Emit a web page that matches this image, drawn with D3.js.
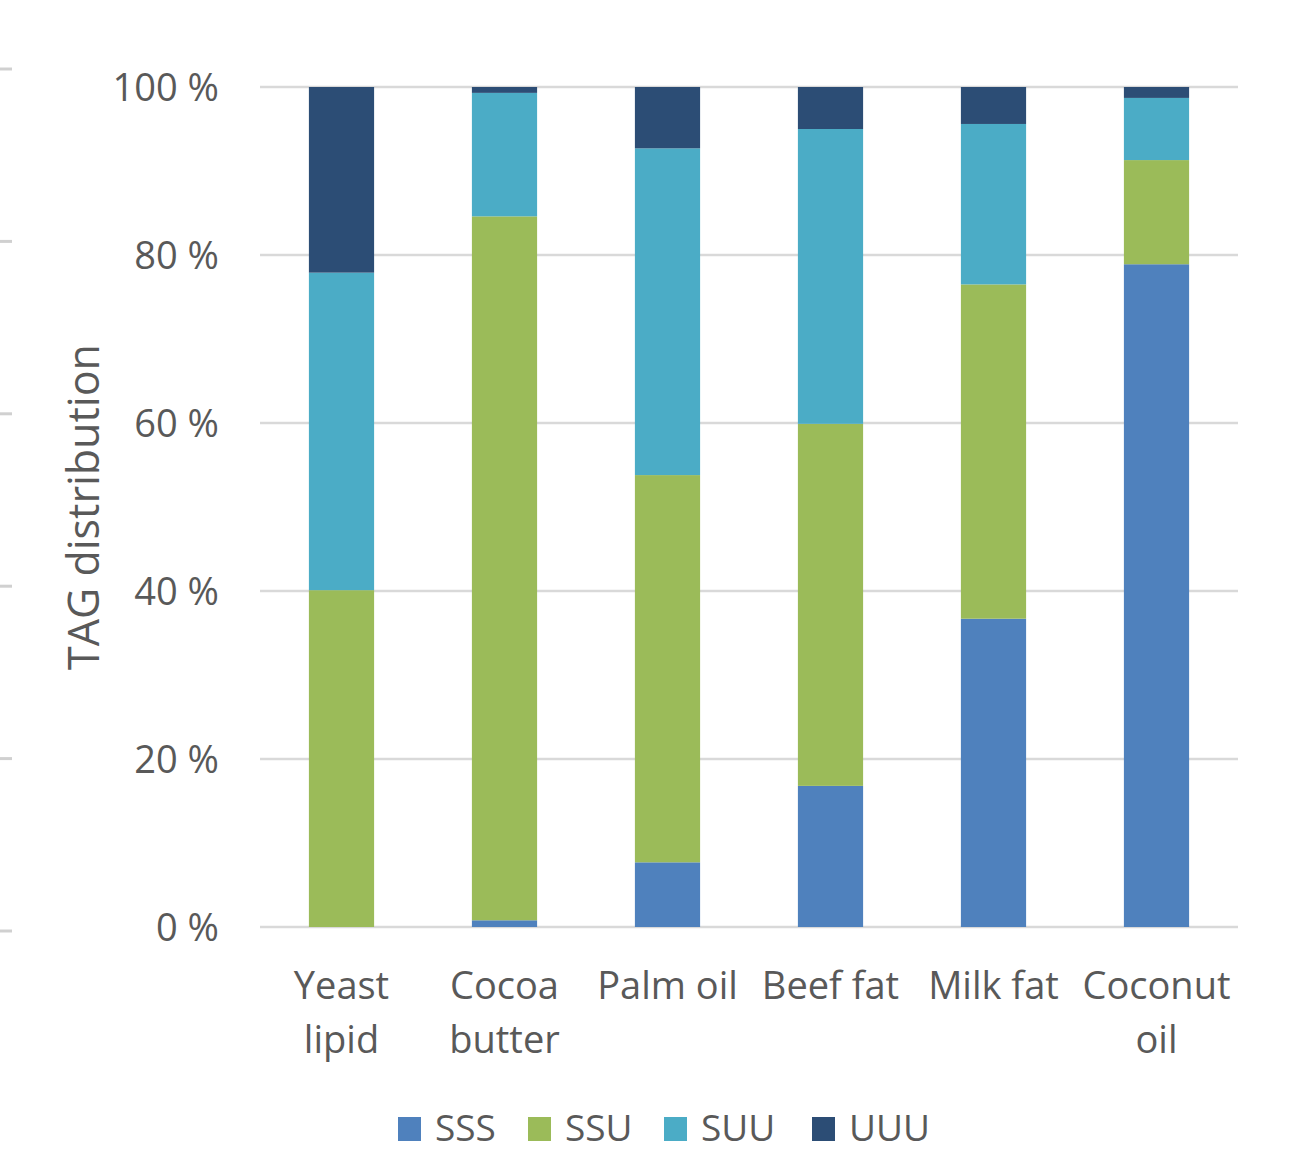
<!DOCTYPE html>
<html>
<head>
<meta charset="utf-8">
<script src="https://cdn.jsdelivr.net/npm/d3@7"></script>
<style>
  html, body { margin: 0; padding: 0; background: #fff; }
  svg { display: block; font-family: "Open Sans", sans-serif; }
</style>
</head>
<body>
<svg id="chart" width="1291" height="1152"></svg>
<script>
// TAG class distribution (%) per fat source
const categories = [["Yeast", "lipid"], ["Cocoa", "butter"], ["Palm oil"], ["Beef fat"], ["Milk fat"], ["Coconut", "oil"]];
const seriesNames = ["SSS", "SSU", "SUU", "UUU"];
const SSS = [0.0, 0.8, 7.7, 16.8, 36.7, 78.9];
const SSU = [40.1, 83.8, 46.1, 43.1, 39.8, 12.4];
const SUU = [37.8, 14.7, 38.9, 35.1, 19.1, 7.4];
const UUU = [22.1, 0.7, 7.3, 5.0, 4.4, 1.3];
const yTicks = [0, 20, 40, 60, 80, 100];
const colors = ["#4f81bd", "#9bbb59", "#4bacc6", "#2c4d75"];

const svg = d3.select("#chart");
const plot = { left: 260, right: 1238, top: 87, bottom: 927 };

const rows = categories.map((c, i) => ({
  key: c.join(" "), lines: c,
  SSS: SSS[i], SSU: SSU[i], SUU: SUU[i], UUU: UUU[i]
}));

const x = d3.scaleBand()
  .domain(rows.map(d => d.key))
  .range([plot.left, plot.right])
  .paddingInner(0.6).paddingOuter(0.3);

const y = d3.scaleLinear().domain([0, 100]).range([plot.bottom, plot.top]);

// small tick marks of the neighbouring axis along the left edge
const edge = d3.scaleLinear().domain([0, 5]).range([931, 69]);
svg.append("g").selectAll("line").data(d3.range(6)).join("line")
  .attr("x1", 0).attr("x2", 12)
  .attr("y1", d => edge(d)).attr("y2", d => edge(d))
  .attr("stroke", "#d0d0d0").attr("stroke-width", 3);

// gridlines
svg.append("g").selectAll("line").data(yTicks).join("line")
  .attr("x1", plot.left).attr("x2", plot.right)
  .attr("y1", d => y(d)).attr("y2", d => y(d))
  .attr("stroke", "#d9d9d9").attr("stroke-width", 2.5);

// y tick labels
const yAxis = d3.axisLeft(y).tickValues(yTicks).tickSize(0).tickPadding(0)
  .tickFormat(d => d + " %");
svg.append("g").attr("transform", "translate(219,0)").call(yAxis)
  .call(g => g.select(".domain").remove())
  .call(g => g.selectAll("text")
    .attr("fill", "#595959").attr("font-size", 38)
    .attr("font-family", "'Open Sans', sans-serif")
    .attr("dy", "0.35em"));

// stacked bars
const stack = d3.stack().keys(seriesNames)(rows);
svg.append("g").selectAll("g").data(stack).join("g")
  .attr("fill", (d, i) => colors[i])
  .selectAll("rect").data(d => d).join("rect")
  .attr("x", d => x(d.data.key))
  .attr("width", x.bandwidth())
  .attr("y", d => y(d[1]))
  .attr("height", d => Math.max(0, y(d[0]) - y(d[1])));

// category labels
const cat = svg.append("g").selectAll("text").data(rows).join("text")
  .attr("text-anchor", "middle")
  .attr("fill", "#595959").attr("font-size", 38)
  .attr("x", d => x(d.key) + x.bandwidth() / 2)
  .attr("y", 999);
cat.selectAll("tspan").data(d => d.lines.map(l => ({ l, cx: x(d.key) + x.bandwidth() / 2 })))
  .join("tspan")
  .attr("x", d => d.cx)
  .attr("dy", (d, i) => i === 0 ? 0 : 54)
  .text(d => d.l);

// y axis title
svg.append("text")
  .attr("transform", "translate(99,507) rotate(-90)")
  .attr("text-anchor", "middle")
  .attr("fill", "#595959").attr("font-size", 43)
  .text("TAG distribution");

// legend
const legendX = [398, 528, 664, 812];
const lg = svg.append("g").selectAll("g").data(seriesNames).join("g")
  .attr("transform", (d, i) => `translate(${legendX[i]},1117)`);
lg.append("rect").attr("width", 23).attr("height", 24)
  .attr("fill", (d, i) => colors[i]);
lg.append("text").attr("x", 37).attr("y", 24)
  .attr("fill", "#595959").attr("font-size", 37)
  .text(d => d);
</script>
</body>
</html>
